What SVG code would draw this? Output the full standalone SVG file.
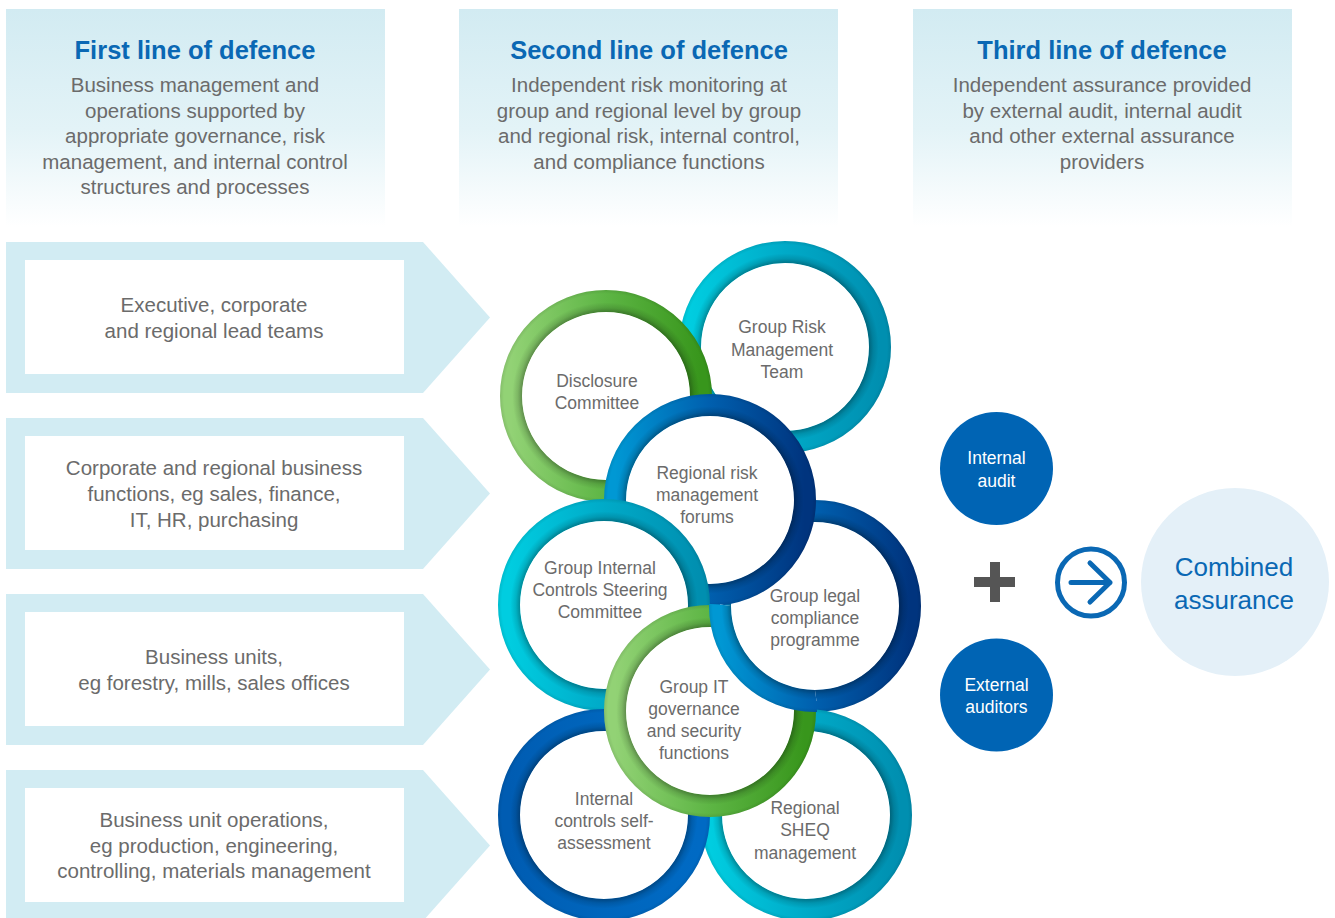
<svg xmlns="http://www.w3.org/2000/svg" width="1335" height="918" viewBox="0 0 1335 918">
<defs>
  <linearGradient id="panel" x1="0" y1="0" x2="0" y2="1">
    <stop offset="0" stop-color="#d2ebf2"/>
    <stop offset="0.55" stop-color="#e3f3f7"/>
    <stop offset="1" stop-color="#ffffff"/>
  </linearGradient>
  <linearGradient id="gGreen" x1="0" y1="0" x2="1" y2="0">
    <stop offset="0" stop-color="#92d275"/>
    <stop offset="0.5" stop-color="#5db544"/>
    <stop offset="1" stop-color="#38961c"/>
  </linearGradient>
  <linearGradient id="gCyan" x1="0" y1="0" x2="1" y2="0">
    <stop offset="0" stop-color="#00cde0"/>
    <stop offset="0.5" stop-color="#00aac8"/>
    <stop offset="1" stop-color="#008fb0"/>
  </linearGradient>
  <linearGradient id="gBlue" x1="0" y1="0" x2="1" y2="0">
    <stop offset="0" stop-color="#0098d4"/>
    <stop offset="0.5" stop-color="#005fae"/>
    <stop offset="1" stop-color="#00347e"/>
  </linearGradient>
  <linearGradient id="gRoyal" x1="0" y1="0" x2="1" y2="0">
    <stop offset="0" stop-color="#005cb2"/>
    <stop offset="0.5" stop-color="#0066bd"/>
    <stop offset="1" stop-color="#006ac4"/>
  </linearGradient>
  <radialGradient id="shade" cx="0.5" cy="0.5" r="0.56">
    <stop offset="0" stop-color="#000" stop-opacity="0"/>
    <stop offset="0.785" stop-color="#000" stop-opacity="0"/>
    <stop offset="0.792" stop-color="#000" stop-opacity="0.3"/>
    <stop offset="0.83" stop-color="#000" stop-opacity="0.12"/>
    <stop offset="0.88" stop-color="#000" stop-opacity="0"/>
    <stop offset="0.96" stop-color="#000" stop-opacity="0"/>
    <stop offset="1" stop-color="#000" stop-opacity="0.1"/>
  </radialGradient>
  <clipPath id="clipGIT">
    <circle cx="710" cy="711" r="107"/>
  </clipPath>
</defs>
<style>
  .title { font-family: "Liberation Sans", Arial, sans-serif; font-weight: bold; font-size: 25.5px; fill: #0a68b4; text-anchor: middle; }
  .desc { font-family: "Liberation Sans", Arial, sans-serif; font-size: 20.5px; fill: #6b6b6b; text-anchor: middle; }
  .ring { font-family: "Liberation Sans", Arial, sans-serif; font-size: 17.5px; fill: #6b6b6b; text-anchor: middle; }
  .white { font-family: "Liberation Sans", Arial, sans-serif; font-size: 17.5px; fill: #ffffff; text-anchor: middle; }
  .big { font-family: "Liberation Sans", Arial, sans-serif; font-size: 26px; fill: #0a68b4; text-anchor: middle; }
  .arrowbg { fill: #d2ecf3; }
  .box { fill: #ffffff; }
  .shade { fill: none; stroke: url(#shade); stroke-width: 22; }
</style>

<rect width="1335" height="918" fill="#ffffff"/>

<!-- Headers -->
<g id="first-line">
  <rect x="6" y="9" width="379" height="218" fill="url(#panel)"/>
  <text class="title" x="195" y="59">First line of defence</text>
  <text class="desc" x="195" y="92">Business management and</text>
  <text class="desc" x="195" y="117.5">operations supported by</text>
  <text class="desc" x="195" y="143">appropriate governance, risk</text>
  <text class="desc" x="195" y="168.5">management, and internal control</text>
  <text class="desc" x="195" y="194">structures and processes</text>
</g>
<g id="second-line">
  <rect x="459" y="9" width="379" height="218" fill="url(#panel)"/>
  <text class="title" x="649" y="59">Second line of defence</text>
  <text class="desc" x="649" y="92">Independent risk monitoring at</text>
  <text class="desc" x="649" y="117.5">group and regional level by group</text>
  <text class="desc" x="649" y="143">and regional risk, internal control,</text>
  <text class="desc" x="649" y="168.5">and compliance functions</text>
</g>
<g id="third-line">
  <rect x="913" y="9" width="379" height="218" fill="url(#panel)"/>
  <text class="title" x="1102" y="59">Third line of defence</text>
  <text class="desc" x="1102" y="92">Independent assurance provided</text>
  <text class="desc" x="1102" y="117.5">by external audit, internal audit</text>
  <text class="desc" x="1102" y="143">and other external assurance</text>
  <text class="desc" x="1102" y="168.5">providers</text>
</g>

<!-- First line arrows -->
<g id="arrow-executive">
  <path class="arrowbg" d="M6,242 H423 L490,317.5 L423,393 H6 Z"/>
  <rect class="box" x="25" y="260" width="379" height="114"/>
  <text class="desc" x="214" y="312">Executive, corporate</text>
  <text class="desc" x="214" y="338">and regional lead teams</text>
</g>
<g id="arrow-corporate">
  <path class="arrowbg" d="M6,418 H423 L490,493.5 L423,569 H6 Z"/>
  <rect class="box" x="25" y="436" width="379" height="114"/>
  <text class="desc" x="214" y="475">Corporate and regional business</text>
  <text class="desc" x="214" y="501">functions, eg sales, finance,</text>
  <text class="desc" x="214" y="527">IT, HR, purchasing</text>
</g>
<g id="arrow-business-units">
  <path class="arrowbg" d="M6,594 H423 L490,669.5 L423,745 H6 Z"/>
  <rect class="box" x="25" y="612" width="379" height="114"/>
  <text class="desc" x="214" y="664">Business units,</text>
  <text class="desc" x="214" y="690">eg forestry, mills, sales offices</text>
</g>
<g id="arrow-operations">
  <path class="arrowbg" d="M6,770 H423 L490,845.5 L423,921 H6 Z"/>
  <rect class="box" x="25" y="788" width="379" height="114"/>
  <text class="desc" x="214" y="827">Business unit operations,</text>
  <text class="desc" x="214" y="853">eg production, engineering,</text>
  <text class="desc" x="214" y="878">controlling, materials management</text>
</g>

<!-- Second line rings -->
<g id="ring-group-risk">
  <circle cx="785" cy="347" r="95" fill="#fff" stroke="url(#gCyan)" stroke-width="22"/>
  <circle class="shade" cx="785" cy="347" r="95"/>
  <text class="ring" x="782" y="333">Group Risk</text>
  <text class="ring" x="782" y="356">Management</text>
  <text class="ring" x="782" y="378">Team</text>
</g>
<g id="ring-disclosure">
  <circle cx="606" cy="396" r="95" fill="#fff" stroke="url(#gGreen)" stroke-width="22"/>
  <circle class="shade" cx="606" cy="396" r="95"/>
  <text class="ring" x="597" y="387">Disclosure</text>
  <text class="ring" x="597" y="409">Committee</text>
</g>
<g id="ring-group-legal">
  <circle cx="815" cy="606" r="95" fill="#fff" stroke="url(#gBlue)" stroke-width="22"/>
  <circle class="shade" cx="815" cy="606" r="95"/>
  <text class="ring" x="815" y="602">Group legal</text>
  <text class="ring" x="815" y="624">compliance</text>
  <text class="ring" x="815" y="646">programme</text>
</g>
<g id="ring-regional-risk">
  <circle cx="710" cy="500" r="95" fill="#fff" stroke="url(#gBlue)" stroke-width="22"/>
  <circle class="shade" cx="710" cy="500" r="95"/>
  <text class="ring" x="707" y="479">Regional risk</text>
  <text class="ring" x="707" y="501">management</text>
  <text class="ring" x="707" y="523">forums</text>
</g>
<g id="ring-internal-controls-steering">
  <circle cx="604" cy="605" r="95" fill="#fff" stroke="url(#gCyan)" stroke-width="22"/>
  <circle class="shade" cx="604" cy="605" r="95"/>
  <text class="ring" x="600" y="574">Group Internal</text>
  <text class="ring" x="600" y="596">Controls Steering</text>
  <text class="ring" x="600" y="618">Committee</text>
</g>
<g id="ring-sheq">
  <circle cx="806" cy="815" r="95" fill="#fff" stroke="url(#gCyan)" stroke-width="22"/>
  <circle class="shade" cx="806" cy="815" r="95"/>
  <text class="ring" x="805" y="814">Regional</text>
  <text class="ring" x="805" y="836">SHEQ</text>
  <text class="ring" x="805" y="859">management</text>
</g>
<g id="ring-self-assessment">
  <circle cx="604" cy="815" r="95" fill="#fff" stroke="url(#gRoyal)" stroke-width="22"/>
  <circle class="shade" cx="604" cy="815" r="95"/>
  <text class="ring" x="604" y="805">Internal</text>
  <text class="ring" x="604" y="827">controls self-</text>
  <text class="ring" x="604" y="849">assessment</text>
</g>
<g id="ring-group-it">
  <circle cx="710" cy="711" r="95" fill="#fff" stroke="url(#gGreen)" stroke-width="22"/>
  <circle class="shade" cx="710" cy="711" r="95"/>
  <text class="ring" x="694" y="693">Group IT</text>
  <text class="ring" x="694" y="715">governance</text>
  <text class="ring" x="694" y="737">and security</text>
  <text class="ring" x="694" y="759">functions</text>
</g>
<g id="ring-group-legal-overlap" clip-path="url(#clipGIT)">
  <circle cx="815" cy="606" r="95" fill="#fff" stroke="url(#gBlue)" stroke-width="22"/>
  <circle class="shade" cx="815" cy="606" r="95"/>
  <text class="ring" x="815" y="602">Group legal</text>
  <text class="ring" x="815" y="624">compliance</text>
  <text class="ring" x="815" y="646">programme</text>
</g>

<!-- Third line -->
<g id="internal-audit">
  <circle cx="996.5" cy="468.5" r="56.5" fill="#0064b4"/>
  <text class="white" x="996.5" y="464">Internal</text>
  <text class="white" x="996.5" y="487">audit</text>
</g>
<g id="external-auditors">
  <circle cx="996.5" cy="695" r="56.5" fill="#0064b4"/>
  <text class="white" x="996.5" y="691">External</text>
  <text class="white" x="996.5" y="713">auditors</text>
</g>
<g id="plus">
  <rect x="974" y="577" width="41" height="10" fill="#555555"/>
  <rect x="990" y="562" width="10" height="40" fill="#555555"/>
</g>
<g id="connectors">
  <circle cx="1091" cy="582.5" r="33.5" fill="none" stroke="#0a68b4" stroke-width="5"/>
  <path d="M1071,582.5 H1110 M1090,563 L1110,582.5 L1090,602" fill="none" stroke="#0a68b4" stroke-width="5" stroke-linecap="round" stroke-linejoin="round"/>
</g>
<g id="combined-assurance">
  <circle cx="1235" cy="582" r="94" fill="#e4f0f8"/>
  <text class="big" x="1234" y="576">Combined</text>
  <text class="big" x="1234" y="609">assurance</text>
</g>
</svg>
